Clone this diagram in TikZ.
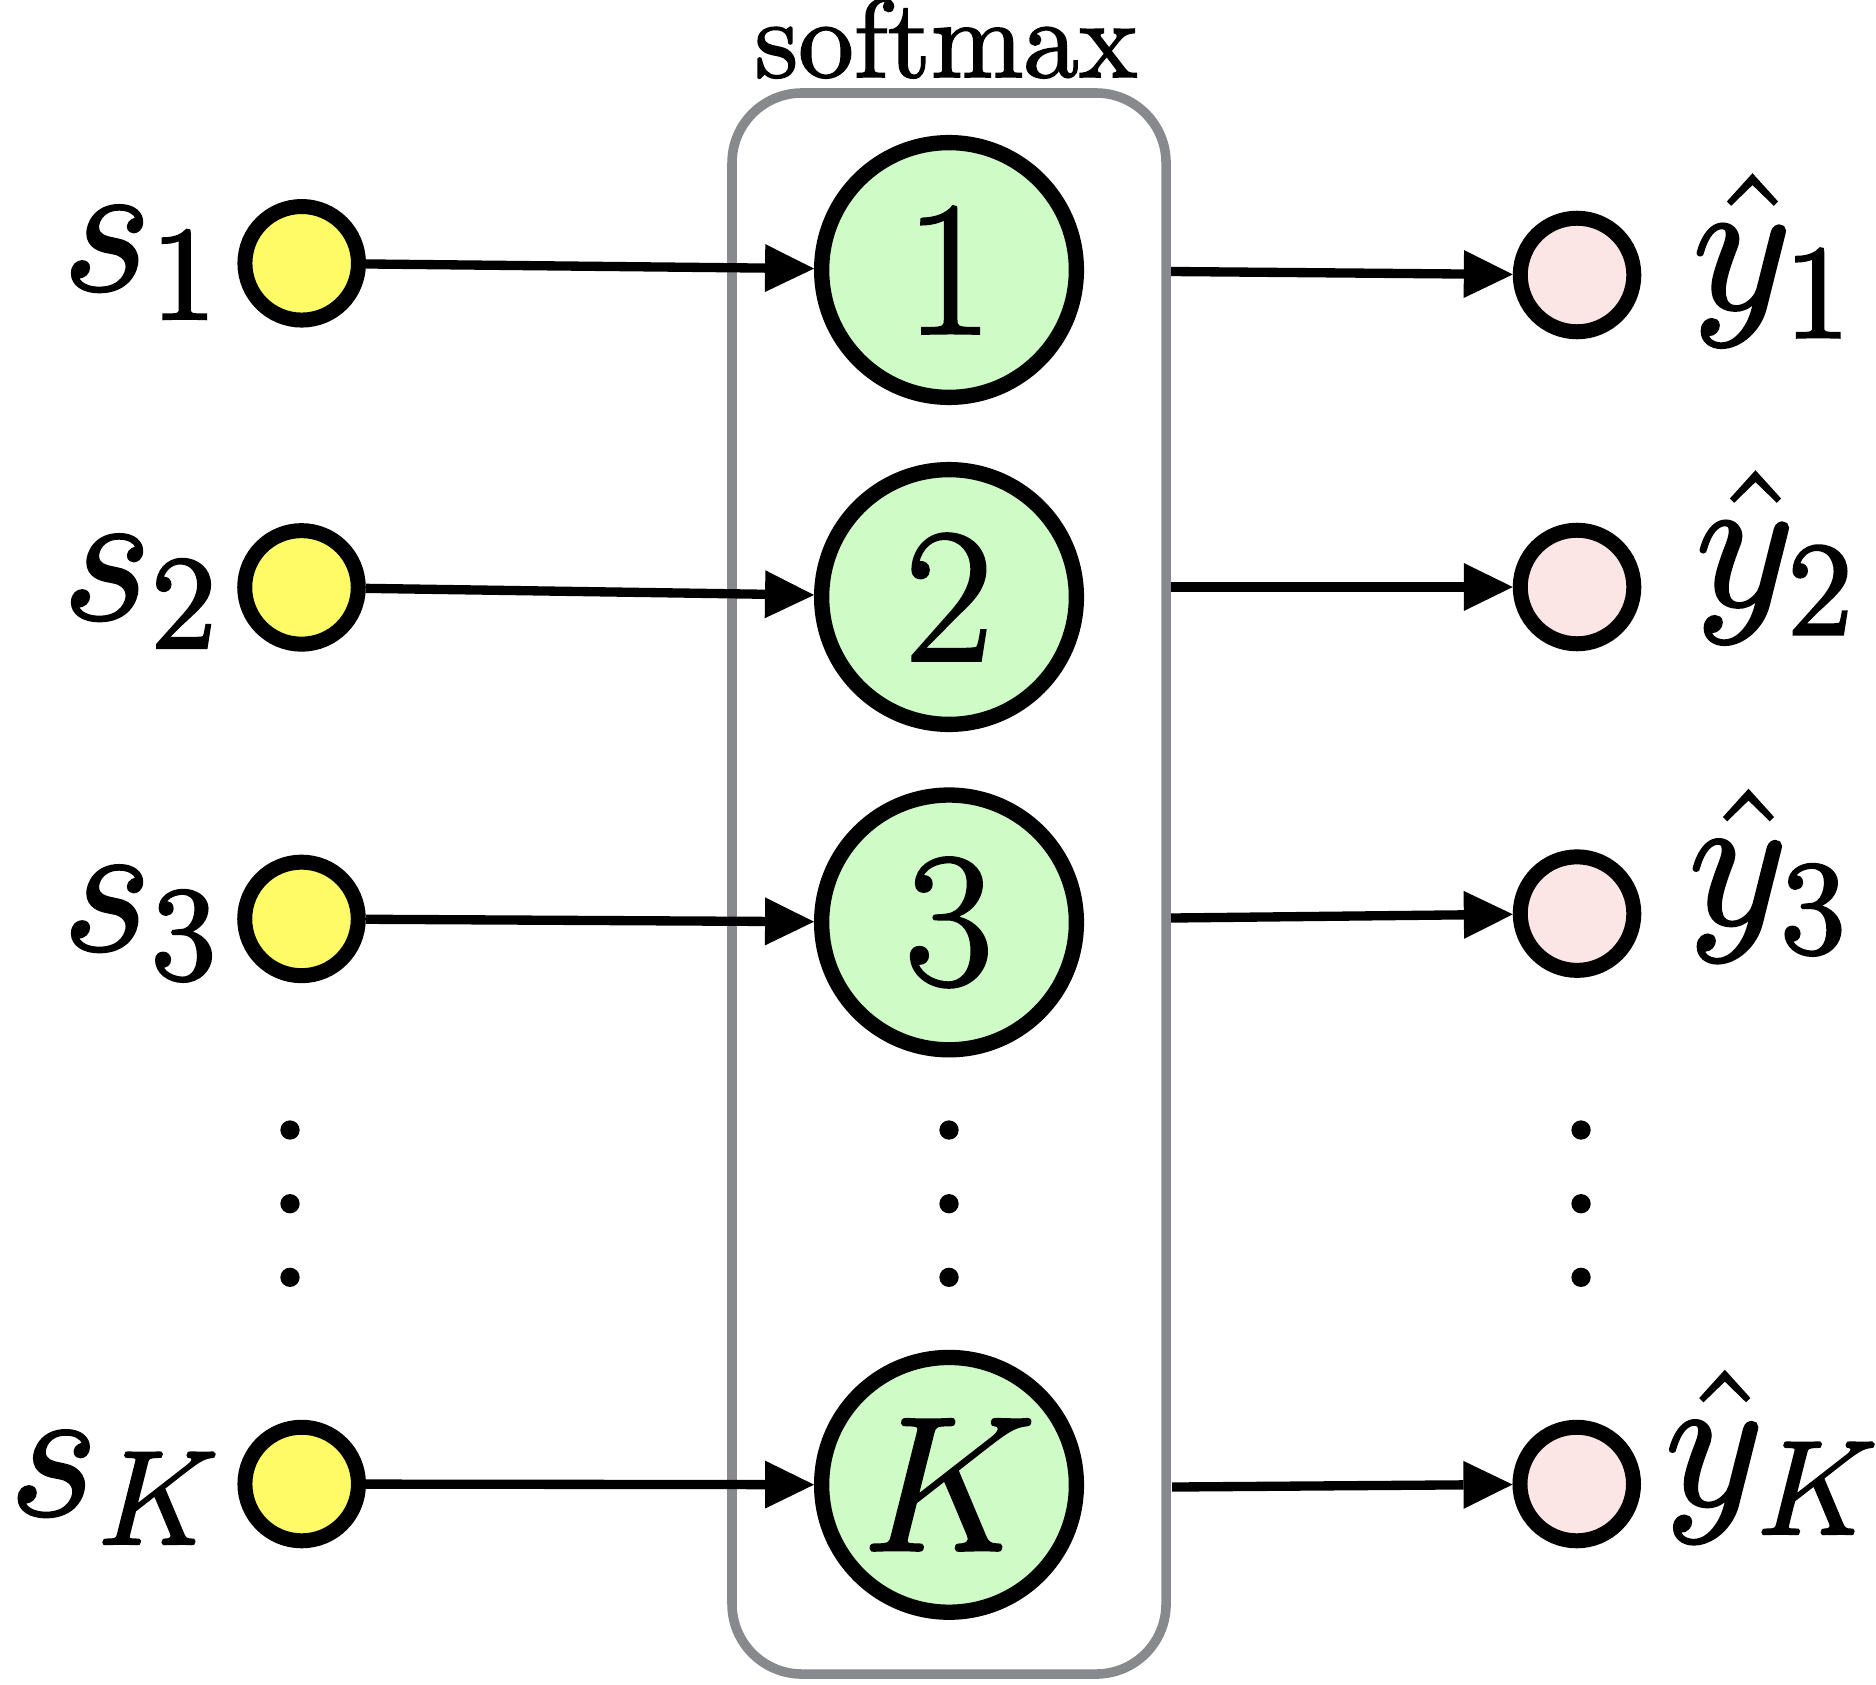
\documentclass[tikz,border=0pt]{standalone}
\usetikzlibrary{arrows.meta}
\definecolor{yel}{HTML}{FFFB66}
\definecolor{grn}{HTML}{CFFCC6}
\definecolor{pnk}{HTML}{FBE5E5}
\definecolor{boxgray}{HTML}{87898C}
\newcommand\heavytext{\special{pdf:literal direct 2 Tr 0.26 w}}
\newcommand\lighttext{\special{pdf:literal direct 2 Tr 0.16 w}}
\begin{document}
\begin{tikzpicture}[x=0.09009pt, y=-0.09009pt,
  smallnode/.style={circle, draw=black, line width=1.35pt, minimum size=10.23pt, inner sep=0pt},
  ynode/.style={smallnode, fill=yel},
  pnode/.style={smallnode, fill=pnk},
  gnode/.style={circle, draw=black, fill=grn, line width=1.38pt, minimum size=22.95pt, inner sep=0pt, font=\LARGE\heavytext},
  slabel/.style={anchor=base east, inner sep=0pt, font=\LARGE\heavytext},
  hlabel/.style={anchor=base, inner sep=0pt, font=\LARGE\heavytext},
  toplabel/.style={anchor=base, inner sep=0pt, font=\normalsize\lighttext},
  arr/.style={line width=0.84pt, -{Triangle[length=4.41pt, width=4.32pt, line width=0pt]}},
  smbox/.style={draw=boxgray, line width=0.86pt, rounded corners=6.3pt, minimum width=39.1pt, minimum height=142.43pt, inner sep=0pt},
  vdot/.style={fill=black}
]
\useasboundingbox (0,0) rectangle (1876,1684);

% softmax box
\node[smbox] (box) at (949,883.5) {};
\node[toplabel] (smlabel) at (946,77) {softmax};

% inputs
\node[ynode] (y1) at (301.7,263.3) {};
\node[ynode] (y2) at (301.5,587.4) {};
\node[ynode] (y3) at (301.5,918.9) {};
\node[ynode] (yK) at (301.7,1484) {};

\node[slabel] (s1) at (224,290) {$s_1$};
\node[slabel] (s2) at (224,619) {$s_2$};
\node[slabel] (s3) at (224,950) {$s_3$};
\node[slabel] (sK) at (226,1515) {$s_K$};

% softmax units
\node[gnode] (g1) at (949,270) {\raisebox{-0.45pt}{1}};
\node[gnode] (g2) at (949,597) {\raisebox{-0.5pt}{2}};
\node[gnode] (g3) at (949,922.4) {3};
\node[gnode] (gK) at (949,1484.8) {$K$};

% outputs
\node[pnode] (p1) at (1577,275) {};
\node[pnode] (p2) at (1577,587) {};
\node[pnode] (p3) at (1577,913.6) {};
\node[pnode] (pK) at (1576.7,1484) {};

\node[hlabel] (h1) at (1774,308.5) {$\hat{y}_1$};
\node[hlabel] (h2) at (1777,605.5) {$\hat{y}_2$};
\node[hlabel] (h3) at (1770,924) {$\hat{y}_3$};
\node[hlabel] (hK) at (1774,1505) {$\hat{y}_K$};

% arrow start points on the box edge
\coordinate (o1) at (1171,271.5);
\coordinate (o2) at (1171,587);
\coordinate (o3) at (1171,918);
\coordinate (oK) at (1172,1487);

\draw[arr] (y1) -- (g1);
\draw[arr] (y2) -- (g2);
\draw[arr] (y3) -- (g3);
\draw[arr] (yK) -- (gK);

\draw[arr] (o1) -- (p1);
\draw[arr] (o2) -- (p2);
\draw[arr] (o3) -- (p3);
\draw[arr] (oK) -- (pK);

% vertical dots
\foreach \xx in {290,949,1581}{
  \foreach \yy in {1130,1203.7,1277.3}{
    \fill[vdot] (\xx,\yy) circle[radius=0.87pt];
  }
}
\end{tikzpicture}
\end{document}
